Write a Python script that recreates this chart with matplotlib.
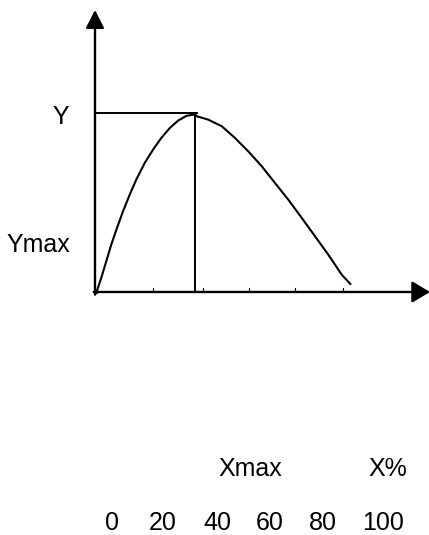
import matplotlib
matplotlib.use("Agg")
import matplotlib.pyplot as plt

plt.rcParams['font.family'] = ['Liberation Sans', 'DejaVu Sans']

# Curve (x in %, y relative, peak = 100)
curve_x = [0.6, 0.8, 2.5, 4.5, 6.5, 8.8, 11.2, 13.9, 16.5, 19.9, 23.2, 26.5,
           29.9, 33.2, 36.5, 39.2, 40.0, 40.7, 45.3, 50.7, 56.0, 61.3, 66.7,
           72.0, 77.3, 82.7, 88.0, 93.3, 98.7, 102.4]
curve_y = [-1.2, 0.7, 7.9, 17.2, 26.6, 36.0, 45.3, 54.7, 63.1, 72.5, 79.9, 86.5,
           92.1, 96.2, 98.9, 99.6, 99.8, 98.7, 96.8, 93.1, 86.5, 79.0, 70.6,
           61.2, 51.9, 41.6, 31.3, 21.0, 9.7, 4.1]

# Peak marker lines
peak_x = 39.9
peak_y = 100.3
hline_end = 40.8

# Small tick marks on the x-axis
tick_marks = [23.2, 43.2, 61.6, 80.0, 99.2]

# Texts
tick_labels = ["0", "20", "40", "60", "80", "100"]
label_y_top = "Y"
label_y_low = "Ymax"
label_xmax = "Xmax"
label_xpct = "X%"

W, H = 429, 535
fig = plt.figure(figsize=(W / 100, H / 100), dpi=100)
ax = fig.add_axes([0, 0, 1, 1])
ax.set_xlim(-38, 133.6)
ax.set_ylim(-136.5, 164.0)
ax.axis('off')

# Axes with arrows
ax.annotate('', xy=(0, 158.4), xytext=(0, -1.5), annotation_clip=False,
            arrowprops=dict(arrowstyle='-|>,head_length=0.55,head_width=0.28',
                            mutation_scale=20, lw=1.7, color='black',
                            shrinkA=0, shrinkB=0))
ax.annotate('', xy=(134.0, 0), xytext=(-0.5, 0), annotation_clip=False,
            arrowprops=dict(arrowstyle='-|>,head_length=0.55,head_width=0.33',
                            mutation_scale=20, lw=1.7, color='black',
                            shrinkA=0, shrinkB=0))

# Tick marks
for t in tick_marks:
    ax.plot([t, t], [0, 2.4], color='black', lw=0.8)

# Curve
ax.plot(curve_x, curve_y, color='black', lw=1.5, solid_capstyle='butt',
        solid_joinstyle='round')

# Peak lines
ax.plot([0, hline_end], [peak_y, peak_y], color='black', lw=1.4)
ax.plot([peak_x, peak_x], [0, peak_y], color='black', lw=1.4)

fs = 18
def ftext(px, py, s):
    fig.text(px / W, 1 - py / H, s, ha='center', va='baseline', fontsize=fs)

ftext(61, 124, label_y_top)
ftext(38, 252, label_y_low)
ftext(250, 476.5, label_xmax)
ftext(388, 476.5, label_xpct)
for px, s in zip([112, 163, 217, 270, 323, 383], tick_labels):
    ftext(px, 530, s)

fig.savefig('out.png', dpi=100)
